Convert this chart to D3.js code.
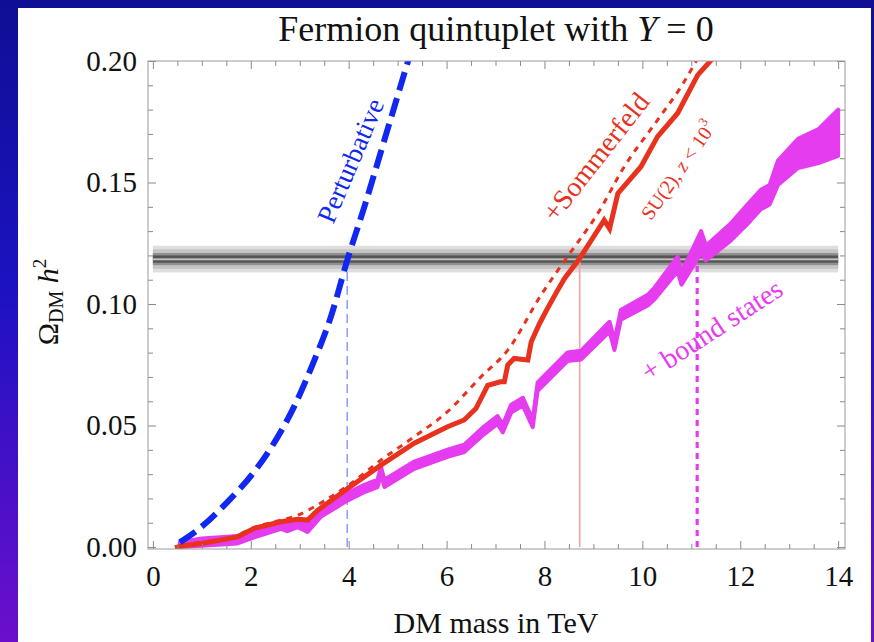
<!DOCTYPE html>
<html><head><meta charset="utf-8">
<script src="https://cdn.jsdelivr.net/npm/d3@7"></script>
<style>
body{margin:0;overflow:hidden;background:#fff}
svg{display:block}
text{font-family:"Liberation Serif","Times New Roman",serif}
</style>
</head><body>
<svg id="c" width="874" height="642"></svg>
<script>
// ---------- DATA ----------
const xMajorTicks = [0,2,4,6,8,10,12,14];
const yMajorTicks = [0,0.05,0.10,0.15,0.20];
const xMinorStep = 0.5;
const yMinorStep = 0.01;

// Perturbative (blue dashed)
const pertX = [0.55,0.91,1.53,2.07,2.48,2.89,3.26,3.64,3.97,4.32,4.73,5.24];
const pertY = [0.002,0.007,0.0187,0.031,0.043,0.058,0.075,0.095,0.118,0.140,0.1675,0.2018];

// +Sommerfeld (red solid)
const somX = [0.5,0.6,1.0,1.73,2.07,2.62,2.96,3.16,3.37,3.98,4.66,5.34,6.02,6.36,6.6,6.84,7.1,7.18,7.25,7.38,7.66,7.73,7.9,8.07,8.25,8.41,8.71,9.22,9.33,9.5,9.97,10.31,10.72,11.13,11.47];
const somY = [0.0,0.0005,0.0015,0.0042,0.0077,0.0104,0.0114,0.0111,0.0152,0.0241,0.0337,0.0427,0.0495,0.0523,0.057,0.0665,0.068,0.068,0.0749,0.0776,0.077,0.0845,0.092,0.0985,0.105,0.1105,0.1185,0.1345,0.131,0.1455,0.1565,0.1689,0.1785,0.1942,0.2018];

// SU(2), z<10^3 (red dotted)
const su2X = [0.6,1.0,1.7,2.0,2.5,2.96,3.5,4.0,4.66,5.34,6.02,6.7,7.25,7.93,8.47,9.09,9.63,10.31,10.79,11.13];
const su2Y = [0.001,0.002,0.0045,0.0075,0.0105,0.0131,0.019,0.0255,0.0358,0.0454,0.0557,0.070,0.081,0.1037,0.1195,0.1373,0.1565,0.1757,0.1894,0.2011];

// + bound states (magenta band)
const bsX  = [0.55,1.0,1.73,2.07,2.62,2.75,2.96,3.16,3.43,3.98,4.32,4.59,4.66,4.73,5.34,6.02,6.36,6.77,7.04,7.15,7.32,7.56,7.76,7.86,8.47,8.75,9.33,9.43,9.56,10.11,10.25,10.72,10.8,11.2,11.3,11.8,12.15,12.42,12.6,12.77,13.18,13.6,14.0];
const bsLo = [0.0,0.0005,0.0015,0.004,0.0075,0.0065,0.0082,0.0062,0.0124,0.0192,0.0226,0.0247,0.0300,0.0247,0.0322,0.0371,0.0391,0.0465,0.0507,0.0472,0.0554,0.0582,0.0493,0.0643,0.0765,0.0772,0.0887,0.0811,0.0935,0.0994,0.1020,0.1135,0.108,0.121,0.118,0.126,0.133,0.139,0.141,0.149,0.156,0.158,0.161];
const bsHi = [0.002,0.0035,0.0045,0.007,0.0105,0.0095,0.0112,0.0092,0.0154,0.0222,0.0256,0.0277,0.0330,0.0277,0.0352,0.0401,0.0421,0.0497,0.0539,0.0504,0.0586,0.0614,0.0525,0.0677,0.0801,0.0808,0.0927,0.0851,0.0975,0.1038,0.1068,0.1195,0.113,0.130,0.124,0.133,0.141,0.147,0.149,0.159,0.168,0.172,0.180];

// Observed relic density band (nested shades)
const bandX = [0,14];
const bandLo = [0.1130,0.1145,0.1160,0.1170,0.1180];
const bandHi = [0.1240,0.1225,0.1210,0.1200,0.1188];

// Crossing masses (vertical guide lines)
const crossX   = [3.97, 8.72, 11.12];
const crossTop = [0.120, 0.118, 0.120];

// ---------- LAYOUT / STYLE ----------
const svg = d3.select("#c");
const W = 874, H = 642;
const defs = svg.append("defs");
const g = defs.append("linearGradient").attr("id","bg").attr("x1",0).attr("y1",0).attr("x2",0).attr("y2",1);
g.append("stop").attr("offset","0%").attr("stop-color","#0f0f94");
g.append("stop").attr("offset","45%").attr("stop-color","#1c12c2");
g.append("stop").attr("offset","100%").attr("stop-color","#6c0fcc");
svg.append("rect").attr("width",W).attr("height",H).attr("fill","url(#bg)");
svg.append("rect").attr("x",18).attr("y",8).attr("width",853).attr("height",634).attr("fill","#fff");

const L=148,R=845,T=61,B=549;
const x = d3.scaleLinear().domain([-0.1,14.14]).range([L,R]);
const y = d3.scaleLinear().domain([-0.0008,0.2]).range([B,T]);

defs.append("clipPath").attr("id","clip").append("rect")
  .attr("x",L).attr("y",T).attr("width",R-L).attr("height",B-T);

const plot = svg.append("g").attr("clip-path","url(#clip)");

// band
const shades = ["#dedede","#c4c4c4","#909090","#555555","#c0c0c0"];
bandLo.forEach((lo,i)=>{
  plot.append("rect")
    .attr("x",x(bandX[0])).attr("width",x(bandX[1])-x(bandX[0]))
    .attr("y",y(bandHi[i])).attr("height",y(lo)-y(bandHi[i]))
    .attr("fill",shades[i]);
});

// vertical guide lines
const vStyles = [
  {c:"#8a9cff",w:1.5,d:"9,5"},
  {c:"#f5a3a0",w:1.6,d:null},
  {c:"#e63cf0",w:3.2,d:"6,5"}
];
crossX.forEach((cx,i)=>{
  const s = vStyles[i];
  plot.append("line").attr("x1",x(cx)).attr("x2",x(cx))
    .attr("y1",y(0)).attr("y2",y(crossTop[i]))
    .attr("stroke",s.c).attr("stroke-width",s.w)
    .attr("stroke-dasharray",s.d);
});

// magenta band
const bs = bsX.map((v,i)=>({x:v,lo:bsLo[i],hi:bsHi[i]}));
plot.append("path").datum(bs)
  .attr("d",d3.area().x(d=>x(d.x)).y0(d=>y(d.lo)).y1(d=>y(d.hi)))
  .attr("fill","#e63cf0").attr("stroke","#e63cf0").attr("stroke-width",4).attr("stroke-linejoin","round");

// red dotted
plot.append("path").datum(su2X.map((v,i)=>[v,su2Y[i]]))
  .attr("d",d3.line().x(d=>x(d[0])).y(d=>y(d[1])).curve(d3.curveMonotoneX))
  .attr("fill","none").attr("stroke","#e8321e").attr("stroke-width",3)
  .attr("stroke-dasharray","6,6");

// red solid
plot.append("path").datum(somX.map((v,i)=>[v,somY[i]]))
  .attr("d",d3.line().x(d=>x(d[0])).y(d=>y(d[1])))
  .attr("fill","none").attr("stroke","#e8321e").attr("stroke-width",5)
  .attr("stroke-linejoin","miter").attr("stroke-linecap","square");

// blue dashed
plot.append("path").datum(pertX.map((v,i)=>[v,pertY[i]]))
  .attr("d",d3.line().x(d=>x(d[0])).y(d=>y(d[1])).curve(d3.curveMonotoneX))
  .attr("fill","none").attr("stroke","#1028f0").attr("stroke-width",6)
  .attr("stroke-dasharray","19,8");

// ---------- AXES ----------
const tickCol = "#8a8a8a";
const xMinor = d3.range(0,14.001,xMinorStep).filter(v=>Math.abs(v/2-Math.round(v/2))>1e-6);
const yMinor = d3.range(0,0.2001,yMinorStep).filter(v=>Math.abs(v/0.05-Math.round(v/0.05))>1e-6);

function styleAxis(sel){
  sel.select(".domain").remove();
  sel.selectAll("line").attr("stroke",tickCol);
  sel.selectAll("text").attr("font-size",29).attr("fill","#111")
     .attr("font-family",'"Liberation Serif","Times New Roman",serif');
}
svg.append("g").attr("transform",`translate(0,${B})`)
  .call(d3.axisBottom(x).tickValues(xMajorTicks).tickSizeInner(-8).tickSizeOuter(0).tickPadding(16).tickFormat(d3.format("d")))
  .call(styleAxis);
svg.append("g").attr("transform",`translate(0,${B})`)
  .call(d3.axisBottom(x).tickValues(xMinor).tickSizeInner(-5).tickSizeOuter(0).tickFormat(""))
  .call(styleAxis);
svg.append("g").attr("transform",`translate(0,${T})`)
  .call(d3.axisTop(x).tickValues(xMajorTicks).tickSizeInner(-8).tickSizeOuter(0).tickFormat(""))
  .call(styleAxis);
svg.append("g").attr("transform",`translate(0,${T})`)
  .call(d3.axisTop(x).tickValues(xMinor).tickSizeInner(-5).tickSizeOuter(0).tickFormat(""))
  .call(styleAxis);
svg.append("g").attr("transform",`translate(${L},0)`)
  .call(d3.axisLeft(y).tickValues(yMajorTicks).tickSizeInner(-8).tickSizeOuter(0).tickPadding(11).tickFormat(d3.format(".2f")))
  .call(styleAxis);
svg.append("g").attr("transform",`translate(${L},0)`)
  .call(d3.axisLeft(y).tickValues(yMinor).tickSizeInner(-5).tickSizeOuter(0).tickFormat(""))
  .call(styleAxis);
svg.append("g").attr("transform",`translate(${R},0)`)
  .call(d3.axisRight(y).tickValues(yMajorTicks).tickSizeInner(-8).tickSizeOuter(0).tickFormat(""))
  .call(styleAxis);
svg.append("g").attr("transform",`translate(${R},0)`)
  .call(d3.axisRight(y).tickValues(yMinor).tickSizeInner(-5).tickSizeOuter(0).tickFormat(""))
  .call(styleAxis);

svg.append("rect").attr("x",L).attr("y",T).attr("width",R-L).attr("height",B-T)
  .attr("fill","none").attr("stroke","#9a9a9a").attr("stroke-width",1);

// ---------- TEXT ----------
const title = svg.append("text").attr("x",496).attr("y",41).attr("text-anchor","middle")
  .attr("font-size",36).attr("fill","#111");
title.append("tspan").text("Fermion quintuplet with ");
title.append("tspan").attr("font-style","italic").text("Y");
title.append("tspan").text(" = 0");

svg.append("text").attr("x",496).attr("y",633).attr("text-anchor","middle")
  .attr("font-size",30).attr("fill","#111").text("DM mass in TeV");

const yl = svg.append("text").attr("transform","translate(58,302) rotate(-90)")
  .attr("text-anchor","middle").attr("font-size",30).attr("fill","#111");
yl.append("tspan").text("Ω");
yl.append("tspan").attr("font-size",20).attr("dy",5).text("DM");
yl.append("tspan").attr("dy",-5).text(" ");
yl.append("tspan").attr("font-style","italic").text("h");
yl.append("tspan").attr("font-size",19).attr("dy",-12).text("2");

function label(cx,cy,ang,size,color){
  return svg.append("text")
    .attr("transform",`translate(${x(cx)},${y(cy)}) rotate(${ang})`)
    .attr("text-anchor","middle").attr("dominant-baseline","central")
    .attr("font-size",size).attr("fill",color);
}
label(4.04,0.159,-67,27,"#1028f0").text("Perturbative");
label(9.05,0.1605,-52,28,"#e8321e").text("+Sommerfeld");
const su = label(10.73,0.155,-55,20,"#e8321e");
su.append("tspan").text("SU(2), ");
su.append("tspan").attr("font-style","italic").text("z");
su.append("tspan").text(" < 10");
su.append("tspan").attr("font-size",13).attr("dy",-8).text("3");
label(11.42,0.0893,-33,28,"#e63cf0").text("+ bound states");
</script>
</body></html>
